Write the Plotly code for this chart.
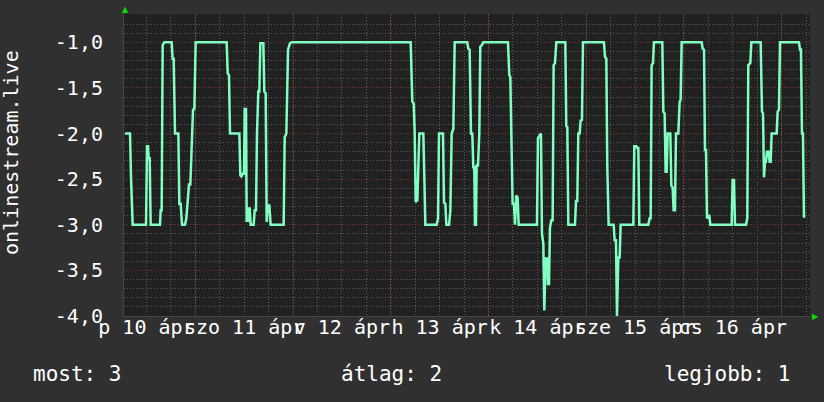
import plotly.graph_objects as go
from datetime import datetime, timedelta

# ---- data (hours since 2015-04-10 00:00, value) ----
hours = [
    6.74, 7.97, 8.21, 8.62, 11.90, 12.14, 12.39, 12.55, 12.80, 13.04, 15.33, 15.50, 15.74, 15.99, 16.40,
    18.20, 18.44, 18.69, 19.02, 19.84, 20.08, 20.41, 20.74, 21.47, 21.80, 22.13, 22.45, 22.78, 23.11,
    23.44, 23.77, 24.09, 31.70, 31.95, 32.28, 32.52, 34.82, 35.06, 35.31, 35.63, 35.96, 36.13, 36.45,
    36.62, 36.86, 37.11, 37.35, 37.60, 38.34, 38.58, 38.91, 39.15, 39.48, 39.73, 39.97, 40.71, 40.95,
    41.28, 41.53, 41.77, 42.18, 42.51, 45.70, 45.95, 46.36, 46.77, 47.26, 47.67,
    76.89, 77.30, 77.63, 77.88, 78.12, 78.53, 79.02, 80.00, 80.25, 80.49, 83.28, 83.61, 83.85, 84.83,
    85.08, 85.41, 85.65, 86.31, 86.63, 86.96, 87.37, 87.70,
    90.80, 91.05, 91.37, 91.70, 92.03, 92.27, 92.52, 92.68, 92.93, 93.09, 93.42, 93.75, 93.99, 94.40,
    94.73, 100.79, 101.11, 101.36, 101.61, 101.93, 102.26, 102.51, 102.83, 103.16, 103.41, 107.91,
    108.15, 108.56, 108.89, 109.14, 109.47, 109.71, 110.04, 110.45, 110.61, 110.86, 111.10, 111.43,
    111.76, 112.00, 112.33, 112.66, 114.87, 115.11, 115.36, 115.61, 117.24, 117.49, 117.81, 118.06,
    118.39, 118.63, 118.96, 119.21, 124.36, 124.61, 124.94, 125.18, 125.51, 126.74, 126.98, 127.31,
    127.56, 127.88, 128.21, 128.46, 131.57,
    131.81, 132.31, 132.55, 132.80, 133.04, 135.25, 135.58, 135.83, 136.07, 136.40, 136.64, 138.69,
    138.94, 139.26, 139.51, 139.76, 140.00, 140.66, 140.90, 141.23, 141.47, 141.80, 142.05, 142.62,
    142.95, 143.19, 143.44, 148.35, 148.60, 148.93, 149.17, 149.42, 149.66, 149.99, 150.24, 150.48,
    155.72, 155.96, 156.29, 156.54, 159.24, 159.56, 159.81, 160.30, 160.55, 162.84, 163.17, 163.42,
    163.66, 163.90, 164.15, 164.39, 164.80, 165.05, 165.30, 165.54, 166.77, 167.01, 167.34, 167.59,
    172.25, 172.50, 172.74, 172.99, 173.23, 173.48, 173.81,
]
values = [
    -2.0, -2.0, -2.48, -3.0, -3.0, -2.14, -2.14, -2.27, -2.27, -3.0, -3.0, -2.84, -2.84, -1.03, -1.0,
    -1.0, -1.18, -1.18, -2.0, -2.0, -2.77, -2.77, -3.0, -3.0, -2.93, -2.68, -2.56, -2.56, -2.0,
    -1.74, -1.73, -1.0, -1.0, -1.34, -1.36, -2.0, -2.0, -2.46, -2.47, -2.44, -2.44, -1.73, -1.73,
    -2.97, -2.81, -2.97, -2.81, -3.0, -3.0, -2.84, -2.84, -2.0, -1.54, -1.54, -1.01, -1.01, -1.54,
    -1.56, -2.97, -2.79, -2.79, -3.0, -3.0, -2.04, -2.0, -1.08, -1.01, -1.0,
    -1.0, -1.65, -1.67, -2.0, -2.75, -2.73, -2.0, -2.0, -2.48, -3.0, -3.0, -2.93, -2.0, -2.0,
    -2.76, -2.77, -3.0, -3.0, -2.85, -2.0, -1.95, -1.0,
    -1.0, -1.07, -1.08, -2.0, -2.0, -2.37, -2.37, -3.0, -3.0, -2.35, -2.35, -2.0, -1.05, -1.03,
    -1.0, -1.0, -1.36, -1.38, -2.0, -2.77, -2.77, -3.0, -2.68, -2.70, -3.0, -3.0,
    -2.05, -2.02, -2.0, -3.1, -3.21, -3.94, -3.37, -3.37, -3.65, -3.65, -3.03, -2.95,
    -2.95, -1.25, -1.23, -1.0, -1.0, -1.92, -1.93, -3.0, -3.0, -2.74, -2.74, -2.0,
    -2.0, -1.86, -1.85, -1.0, -1.0, -1.16, -1.18, -2.37, -3.0, -3.0, -3.17, -3.17,
    -4.0, -3.36, -3.36, -3.0, -3.0,
    -2.14, -2.14, -2.16, -2.16, -3.0, -3.0, -2.93, -2.93, -1.25, -1.23, -1.0, -1.0,
    -1.76, -1.78, -2.42, -2.42, -2.0, -2.0, -2.57, -2.59, -2.84, -2.84, -2.0, -2.0,
    -1.65, -1.63, -1.0, -1.0, -1.07, -1.08, -2.18, -2.18, -2.93, -2.9, -2.9, -3.0,
    -3.0, -2.51, -2.51, -3.0, -3.0, -2.93, -1.25, -1.23, -1.0, -1.0, -1.76, -1.78,
    -2.48, -2.31, -2.31, -2.2, -2.2, -2.31, -2.31, -2.0, -2.0, -1.76, -1.74, -1.0,
    -1.0, -1.08, -1.08, -2.0, -2.0, -2.91, -2.91,
]

day_labels = ["p 10 ápr", "szo 11 ápr", "v 12 ápr", "h 13 ápr", "k 14 ápr", "sze 15 ápr", "cs 16 ápr"]
y_ticks = [-1.0, -1.5, -2.0, -2.5, -3.0, -3.5, -4.0]
y_ticktext = ["-1,0", "-1,5", "-2,0", "-2,5", "-3,0", "-3,5", "-4,0"]
legend_items = ["most: 3", "átlag: 2", "legjobb: 1"]
y_title = "onlinestream.live"

base = datetime(2015, 4, 10)
times = [base + timedelta(hours=h) for h in hours]
x_start = base + timedelta(hours=6.49)
x_end = base + timedelta(hours=174.96)
noon_ticks = [base + timedelta(days=i, hours=12) for i in range(len(day_labels))]
midnights = [base + timedelta(days=i) for i in range(1, 8)]

FONT = "DejaVu Sans Mono"
GRID_GRAY = "#5c5c5c"
GRID_RED = "#7e3636"
DOT = "1px,2px"

fig = go.Figure(go.Scatter(
    x=times, y=values, mode="lines",
    line=dict(color="#80ffc0", width=2.5),
    hoverinfo="skip",
))

shapes = []
for m in midnights:
    shapes.append(dict(type="line", xref="x", yref="paper", x0=m, x1=m, y0=0, y1=1,
                       line=dict(color=GRID_RED, width=1, dash=DOT), layer="between"))

L, R, T, B = 124, 14, 14, 86
W, H = 824, 402
pw, ph = W - L - R, H - T - B

def px(x):
    return (x - L) / pw

def py(y):
    return (H - B - y) / ph

annotations = [
    dict(text=y_title, textangle=-90, x=px(11), y=py(153), xref="paper", yref="paper",
         xanchor="center", yanchor="middle", showarrow=False,
         font=dict(family=FONT, size=20, color="#ffffff")),
    dict(text=legend_items[0], x=px(31), y=py(374), xref="paper", yref="paper",
         xanchor="left", yanchor="middle", showarrow=False,
         font=dict(family=FONT, size=21, color="#ffffff")),
    dict(text=legend_items[1], x=px(339), y=py(374), xref="paper", yref="paper",
         xanchor="left", yanchor="middle", showarrow=False,
         font=dict(family=FONT, size=21, color="#ffffff")),
    dict(text=legend_items[2], x=px(792), y=py(374), xref="paper", yref="paper",
         xanchor="right", yanchor="middle", showarrow=False,
         font=dict(family=FONT, size=21, color="#ffffff")),
    dict(text="▲", x=px(125), y=py(10), xref="paper", yref="paper",
         xanchor="center", yanchor="middle", showarrow=False,
         font=dict(family="DejaVu Sans", size=8, color="#00e000")),
    dict(text="▶", x=px(815), y=py(316), xref="paper", yref="paper",
         xanchor="center", yanchor="middle", showarrow=False,
         font=dict(family="DejaVu Sans", size=8, color="#00e000")),
]

fig.update_layout(
    width=W, height=H,
    margin=dict(l=L, r=R, t=T, b=B, pad=0),
    paper_bgcolor="#303030",
    plot_bgcolor="#212121",
    showlegend=False,
    shapes=shapes,
    annotations=annotations,
    xaxis=dict(
        type="date", range=[x_start, x_end],
        tickmode="array", tickvals=noon_ticks, ticktext=day_labels,
        tickangle=0, ticks="", ticklabelstandoff=-7,
        tickfont=dict(family=FONT, size=20, color="#ffffff"),
        showgrid=True, gridcolor=GRID_GRAY, griddash=DOT, gridwidth=1,
        minor=dict(tickmode="linear", tick0=base, dtick=6 * 3600 * 1000,
                   showgrid=True, gridcolor=GRID_GRAY, griddash=DOT, gridwidth=1, ticks=""),
        zeroline=False, showline=True, linecolor="#474747", linewidth=1,
        automargin=False, fixedrange=True,
    ),
    yaxis=dict(
        range=[-4.0, -0.69],
        tickmode="array", tickvals=y_ticks, ticktext=y_ticktext,
        ticks="", ticklabelstandoff=16,
        tickfont=dict(family=FONT, size=20, color="#ffffff"),
        showgrid=True, gridcolor=GRID_RED, griddash=DOT, gridwidth=1,
        minor=dict(tickmode="linear", tick0=0, dtick=0.1,
                   showgrid=True, gridcolor=GRID_GRAY, griddash=DOT, gridwidth=1, ticks=""),
        zeroline=False, showline=True, linecolor="#474747", linewidth=1,
        automargin=False, fixedrange=True,
    ),
)

fig.write_html(
    "out.html",
    config={"displayModeBar": False},
    post_script="document.body.style.margin='0';document.body.style.background='#303030';",
)
